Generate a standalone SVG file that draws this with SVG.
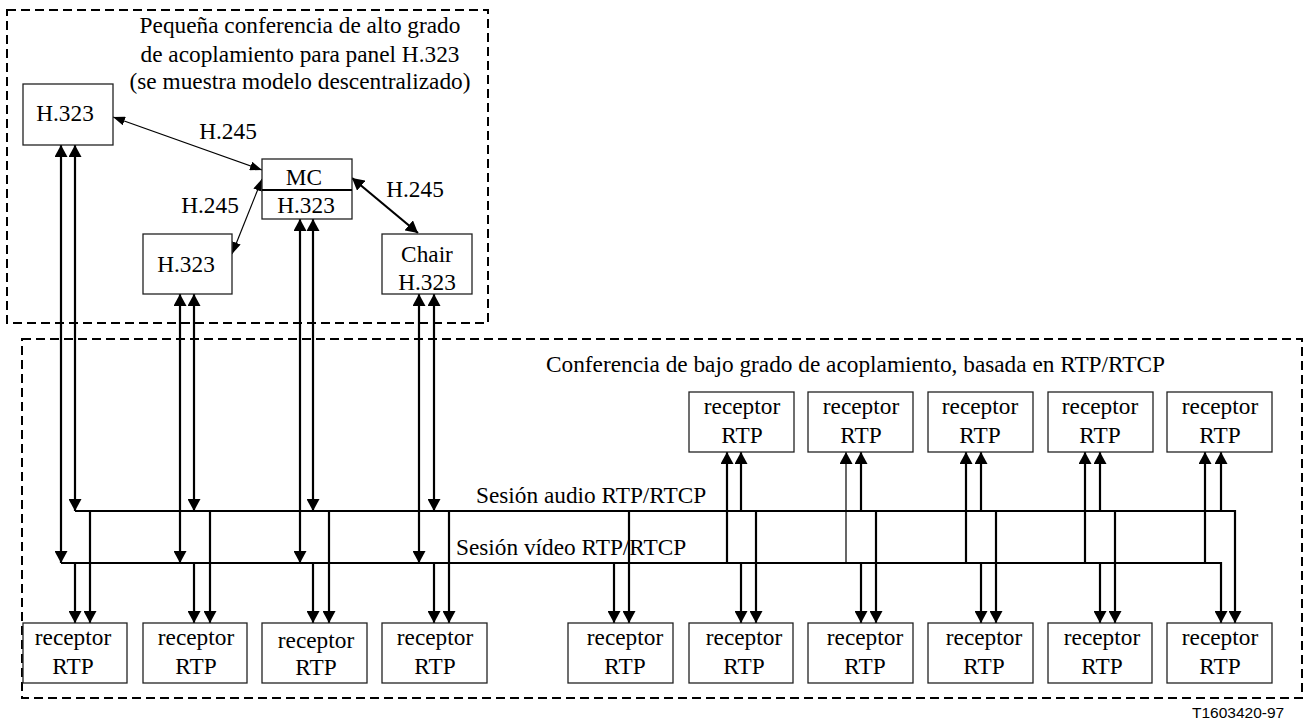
<svg xmlns="http://www.w3.org/2000/svg" width="1306" height="722" viewBox="0 0 1306 722">
<style>
text{font-family:"Liberation Serif","Times New Roman",serif;font-size:23.3px;fill:#000}
.c{text-anchor:middle}
.box{fill:#fff;stroke:#222;stroke-width:1.3}
.frame{fill:none;stroke:#000;stroke-width:2;stroke-dasharray:9 5}
.ln{fill:none;stroke:#000;stroke-width:2.2}
.thin{fill:none;stroke:#000;stroke-width:1.2}
.arr{marker-end:url(#ah)}
.arr2{marker-start:url(#ah);marker-end:url(#ah)}
.code{font-family:"Liberation Sans",Arial,sans-serif;font-size:15.5px}
</style>
<defs>
<marker id="ah" viewBox="0 0 12 13" refX="12" refY="6.5" markerWidth="12" markerHeight="13" markerUnits="userSpaceOnUse" orient="auto-start-reverse"><path d="M0,0 L12,6.5 L0,13 z" fill="#000"/></marker>
<marker id="ahs" viewBox="0 0 12 9" refX="12" refY="4.5" markerWidth="12" markerHeight="9" markerUnits="userSpaceOnUse" orient="auto-start-reverse"><path d="M0,0 L12,4.5 L0,9 z" fill="#000"/></marker>
</defs>
<rect width="1306" height="722" fill="#fff"/>
<g id="frames">
<rect class="frame" x="7" y="10" width="481" height="313"/>
<rect class="frame" x="22" y="339" width="1280" height="359"/>
<text class="c" x="300" y="33">Pequeña conferencia de alto grado</text>
<text class="c" x="300" y="62">de acoplamiento para panel H.323</text>
<text class="c" x="300" y="89">(se muestra modelo descentralizado)</text>
<text x="546" y="372">Conferencia de bajo grado de acoplamiento, basada en RTP/RTCP</text>
<text x="476" y="503">Sesión audio RTP/RTCP</text>
<text x="456" y="555">Sesión vídeo RTP/RTCP</text>
<text class="code" x="1192" y="718">T1603420-97</text>
</g>
<g id="connectors">
<line x1="113" y1="117" x2="262" y2="170" class="thin" marker-start="url(#ahs)" marker-end="url(#ahs)"/>
<line x1="262" y1="179" x2="232" y2="254" class="thin" marker-start="url(#ahs)" marker-end="url(#ahs)"/>
<line x1="352" y1="178" x2="418" y2="233" class="ln" marker-start="url(#ah)" marker-end="url(#ah)"/>
<text class="c" x="228" y="139">H.245</text>
<text class="c" x="210" y="213">H.245</text>
<text class="c" x="415" y="197">H.245</text>
<path class="ln arr" d="M75,511 H1235 V623"/>
<path class="ln arr" d="M61,563 H1221 V623"/>
<path class="ln arr2" d="M61,145 V563"/>
<path class="ln arr2" d="M75,145 V511"/>
<path class="ln arr2" d="M180,294 V563"/>
<path class="ln arr2" d="M194,294 V511"/>
<path class="ln arr2" d="M300,219 V563"/>
<path class="ln arr2" d="M313,219 V511"/>
<path class="ln arr2" d="M419,294 V563"/>
<path class="ln arr2" d="M434,294 V511"/>
<path class="ln arr" d="M75,563 V623"/><path class="ln arr" d="M90,511 V623"/>
<path class="ln arr" d="M194,563 V623"/><path class="ln arr" d="M210,511 V623"/>
<path class="ln arr" d="M313,563 V623"/><path class="ln arr" d="M329,511 V623"/>
<path class="ln arr" d="M434,563 V623"/><path class="ln arr" d="M449,511 V623"/>
<path class="ln arr" d="M614,563 V623"/><path class="ln arr" d="M629,511 V623"/>
<path class="ln arr" d="M741,563 V623"/><path class="ln arr" d="M756,511 V623"/>
<path class="ln arr" d="M861,563 V623"/><path class="ln arr" d="M876,511 V623"/>
<path class="ln arr" d="M981,563 V623"/><path class="ln arr" d="M996,511 V623"/>
<path class="ln arr" d="M1100,563 V623"/><path class="ln arr" d="M1115,511 V623"/>
<path class="ln arr" d="M727,563 V452"/><path class="ln arr" d="M741,511 V452"/>
<path class="thin arr" d="M846,563 V452"/><path class="ln arr" d="M861,511 V452"/>
<path class="ln arr" d="M966,563 V452"/><path class="ln arr" d="M981,511 V452"/>
<path class="ln arr" d="M1085,563 V452"/><path class="ln arr" d="M1100,511 V452"/>
<path class="ln arr" d="M1205,563 V452"/><path class="ln arr" d="M1221,511 V452"/>
</g>
<g id="h323-a"><rect class="box" x="23" y="84" width="90" height="61"/><text class="c" x="65" y="121">H.323</text></g>
<g id="mc"><rect class="box" x="262" y="159" width="90" height="60"/><line x1="262" y1="190" x2="352" y2="190" stroke="#000" stroke-width="2"/><text class="c" x="304" y="185">MC</text><text class="c" x="306" y="213">H.323</text></g>
<g id="h323-b"><rect class="box" x="143" y="234" width="89" height="60"/><text class="c" x="186" y="272">H.323</text></g>
<g id="chair"><rect class="box" x="382" y="234" width="90" height="60"/><text class="c" x="427" y="262">Chair</text><text class="c" x="427" y="290">H.323</text></g>
<g id="rt1"><rect class="box" x="689" y="392" width="105" height="60"/><text class="c" x="742" y="414">receptor</text><text class="c" x="742" y="443">RTP</text></g>
<g id="rt2"><rect class="box" x="808" y="392" width="105" height="60"/><text class="c" x="861" y="414">receptor</text><text class="c" x="861" y="443">RTP</text></g>
<g id="rt3"><rect class="box" x="928" y="392" width="105" height="60"/><text class="c" x="980" y="414">receptor</text><text class="c" x="980" y="443">RTP</text></g>
<g id="rt4"><rect class="box" x="1048" y="392" width="105" height="60"/><text class="c" x="1100" y="414">receptor</text><text class="c" x="1100" y="443">RTP</text></g>
<g id="rt5"><rect class="box" x="1167" y="392" width="105" height="60"/><text class="c" x="1220" y="414">receptor</text><text class="c" x="1220" y="443">RTP</text></g>
<g id="rb1"><rect class="box" x="23" y="623" width="104" height="60"/><text class="c" x="73" y="645">receptor</text><text class="c" x="73" y="674">RTP</text></g>
<g id="rb2"><rect class="box" x="143" y="623" width="104" height="60"/><text class="c" x="196" y="645">receptor</text><text class="c" x="196" y="674">RTP</text></g>
<g id="rb3"><rect class="box" x="262" y="623" width="105" height="60"/><text class="c" x="316" y="648">receptor</text><text class="c" x="316" y="675">RTP</text></g>
<g id="rb4"><rect class="box" x="382" y="623" width="105" height="60"/><text class="c" x="435" y="645">receptor</text><text class="c" x="435" y="674">RTP</text></g>
<g id="rb5"><rect class="box" x="568" y="623" width="105" height="60"/><text class="c" x="625" y="645">receptor</text><text class="c" x="625" y="674">RTP</text></g>
<g id="rb6"><rect class="box" x="689" y="623" width="104" height="60"/><text class="c" x="744" y="645">receptor</text><text class="c" x="744" y="674">RTP</text></g>
<g id="rb7"><rect class="box" x="808" y="623" width="105" height="60"/><text class="c" x="865" y="645">receptor</text><text class="c" x="865" y="674">RTP</text></g>
<g id="rb8"><rect class="box" x="928" y="623" width="105" height="60"/><text class="c" x="984" y="645">receptor</text><text class="c" x="984" y="674">RTP</text></g>
<g id="rb9"><rect class="box" x="1048" y="623" width="104" height="60"/><text class="c" x="1102" y="645">receptor</text><text class="c" x="1102" y="674">RTP</text></g>
<g id="rb10"><rect class="box" x="1167" y="623" width="105" height="60"/><text class="c" x="1220" y="645">receptor</text><text class="c" x="1220" y="674">RTP</text></g>
</svg>
